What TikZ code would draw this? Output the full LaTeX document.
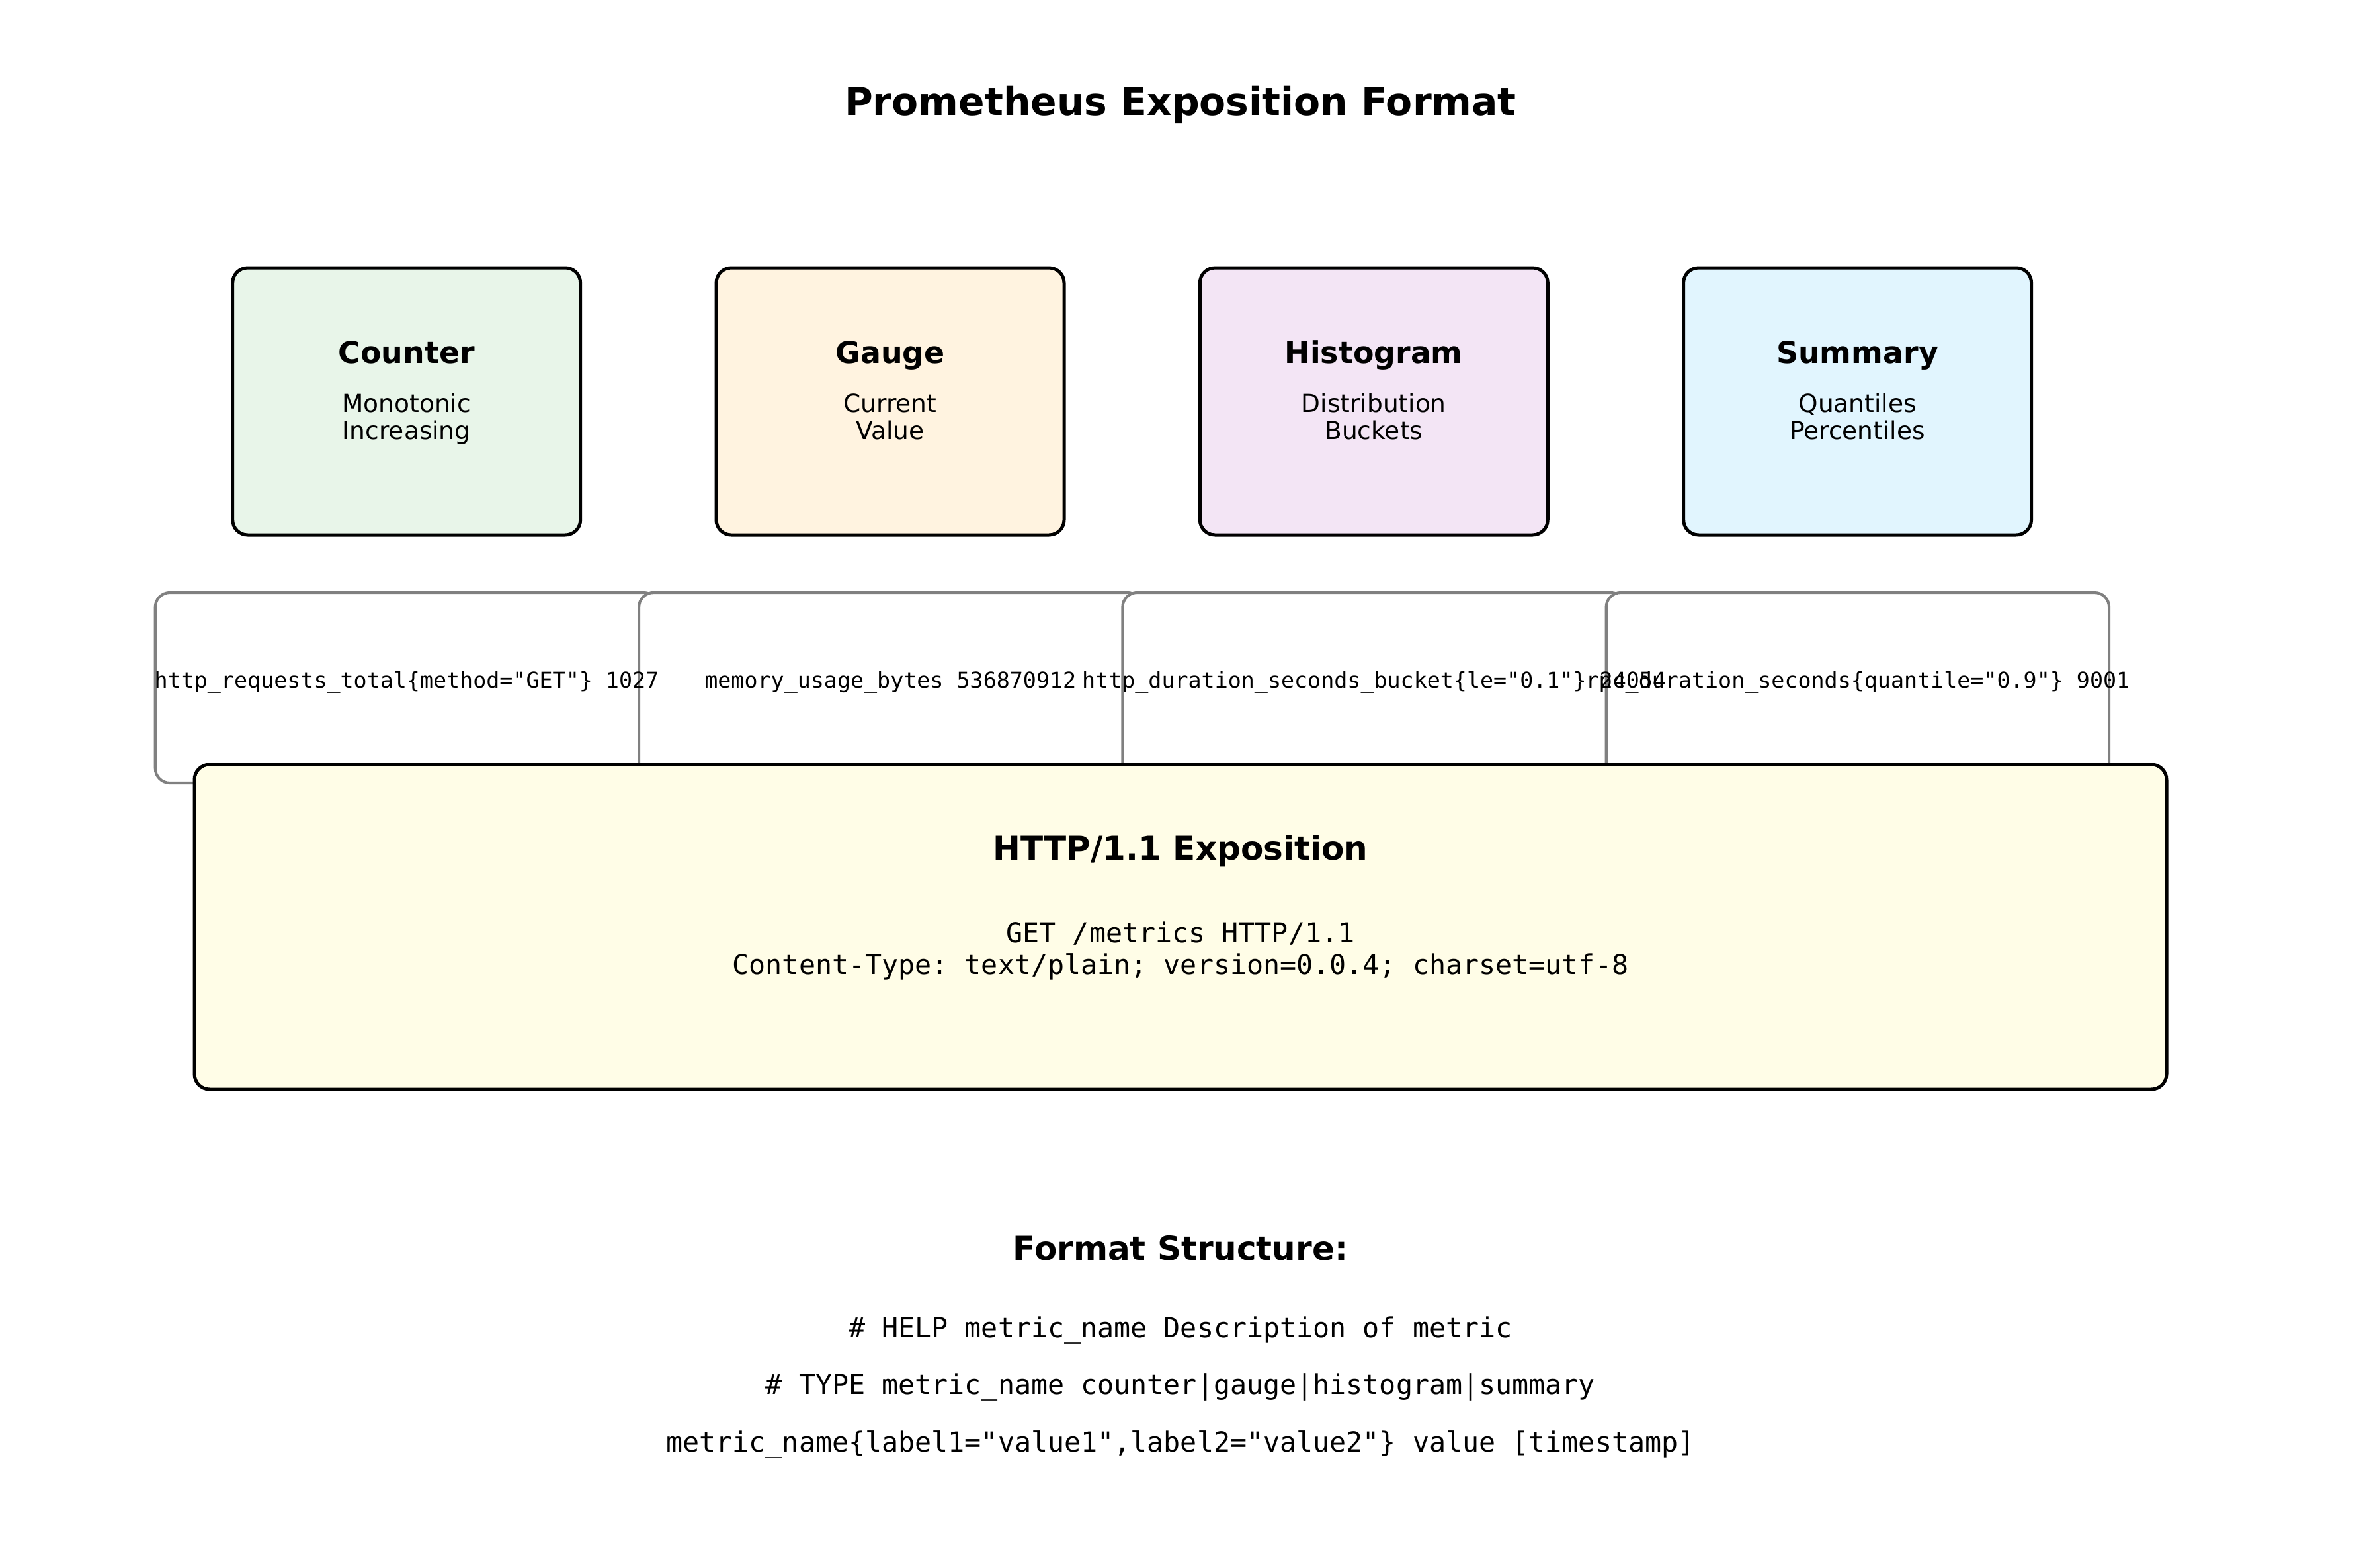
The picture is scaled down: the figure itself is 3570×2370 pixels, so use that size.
\documentclass[tikz,border=0pt]{standalone}
\usepackage{fontspec}
\setmainfont{DejaVu Sans}
\setmonofont{DejaVu Sans Mono}
\definecolor{cntfill}{HTML}{E8F5E9}
\definecolor{gaufill}{HTML}{FFF3E0}
\definecolor{hisfill}{HTML}{F3E5F5}
\definecolor{sumfill}{HTML}{E1F5FE}
\definecolor{httpfill}{HTML}{FFFDE7}
\definecolor{edgegray}{HTML}{808080}
\begin{document}
\begin{tikzpicture}[x=0.24pt,y=-0.24pt,
  typebox/.style={draw=black,line width=1.2pt,rounded corners=5.5pt,minimum width=126.24pt,minimum height=96.96pt,inner sep=0pt},
  samplebox/.style={draw=edgegray,fill=white,line width=1pt,rounded corners=5.3pt,minimum width=182.5pt,minimum height=69.12pt,inner sep=0pt},
  httpbox/.style={draw=black,fill=httpfill,line width=1.2pt,rounded corners=5.5pt,minimum width=715.68pt,minimum height=117.84pt,inner sep=0pt},
  txt/.style={anchor=base,inner sep=0pt,outer sep=0pt},
  maintitle/.style={txt,font=\fontsize{14}{16.8}\selectfont\bfseries},
  boxtitle/.style={txt,font=\fontsize{11}{13.2}\selectfont\bfseries},
  boxdesc/.style={txt,font=\fontsize{9}{10.8}\selectfont},
  sampletxt/.style={txt,font=\fontsize{8}{9.6}\selectfont\ttfamily},
  bigtitle/.style={txt,font=\fontsize{12}{14.4}\selectfont\bfseries},
  codetxt/.style={txt,font=\fontsize{10}{12}\selectfont\ttfamily}
]
\fill[white] (0,0) rectangle (3570,2370);
\useasboundingbox (0,0) rectangle (3570,2370);

% type boxes
\node[typebox,fill=cntfill] (counter) at (614.7,607) {};
\node[typebox,fill=gaufill] (gauge) at (1346,607) {};
\node[typebox,fill=hisfill] (histogram) at (2077.3,607) {};
\node[typebox,fill=sumfill] (summary) at (2808.6,607) {};

% sample boxes
\node[samplebox] (s1) at (615,1040) {};
\node[samplebox] (s2) at (1346.3,1040) {};
\node[samplebox] (s3) at (2077.6,1040) {};
\node[samplebox] (s4) at (2808.9,1040) {};

% http box
\node[httpbox] (http) at (1785,1401.5) {};

% texts
\node[maintitle] (title) at (1785,174) {Prometheus Exposition Format};

\node[boxtitle] (counter-t) at (614.7,549) {Counter};
\node[boxdesc] (counter-d1) at (614.7,623) {Monotonic};
\node[boxdesc] (counter-d2) at (614.7,664) {Increasing};

\node[boxtitle] (gauge-t) at (1346,549) {Gauge};
\node[boxdesc] (gauge-d1) at (1346,623) {Current};
\node[boxdesc] (gauge-d2) at (1346,664) {Value};

\node[boxtitle] (histogram-t) at (2077.3,549) {Histogram};
\node[boxdesc] (histogram-d1) at (2077.3,623) {Distribution};
\node[boxdesc] (histogram-d2) at (2077.3,664) {Buckets};

\node[boxtitle] (summary-t) at (2808.6,549) {Summary};
\node[boxdesc] (summary-d1) at (2808.6,623) {Quantiles};
\node[boxdesc] (summary-d2) at (2808.6,664) {Percentiles};

\node[sampletxt] (s1-t) at (615,1040) {http\_requests\_total\{method="GET"\} 1027};
\node[sampletxt] (s2-t) at (1346.3,1040) {memory\_usage\_bytes 536870912};
\node[sampletxt] (s3-t) at (2077.6,1040) {http\_duration\_seconds\_bucket\{le="0.1"\} 24054};
\node[sampletxt] (s4-t) at (2808.9,1040) {rpc\_duration\_seconds\{quantile="0.9"\} 9001};

\node[bigtitle] (http-t) at (1785,1300.7) {HTTP/1.1 Exposition};
\node[codetxt] (http-l1) at (1785,1425) {GET /metrics HTTP/1.1};
\node[codetxt] (http-l2) at (1785,1473.3) {Content-Type: text/plain; version=0.0.4; charset=utf-8};

\node[bigtitle] (fmt-t) at (1785,1905.7) {Format Structure:};
\node[codetxt] (fmt-l1) at (1785,2022.3) {\# HELP metric\_name Description of metric};
\node[codetxt] (fmt-l2) at (1785,2108.3) {\# TYPE metric\_name counter|gauge|histogram|summary};
\node[codetxt] (fmt-l3) at (1785,2195) {metric\_name\{label1="value1",label2="value2"\} value [timestamp]};
\end{tikzpicture}
\end{document}
